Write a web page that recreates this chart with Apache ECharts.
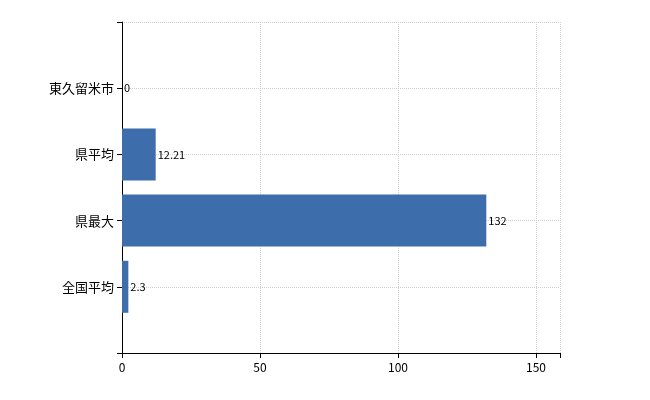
<!DOCTYPE html>
<html lang="ja">
<head>
    <meta charset="UTF-8">
    <title>chart</title>
    <script src="https://cdn.jsdelivr.net/npm/echarts@6/dist/echarts.min.js"></script>
    <style>
        html, body {margin: 0; padding: 0; background: #fff;}
        #main {width: 650px; height: 400px;}
    </style>
</head>
<body>
<div id="main"></div>
<script>
    // bottom to top; empty slots pad the ends
    let categories = ['', '全国平均', '県最大', '県平均', '東久留米市', ''];
    let values = [null, 2.3, 132, 12.21, 0, null];
    let xTicks = [0, 50, 100, 150];

    let myChart = echarts.init(document.getElementById('main'));
    let option = {
        animation: false,
        grid: {left: 122, right: 90, top: 22, bottom: 47},
        xAxis: {
            type: 'value',
            min: 0,
            max: 158.7,
            interval: 50,
            axisLine: {show: true, lineStyle: {color: '#000'}},
            axisTick: {show: true, lineStyle: {color: '#000'}},
            axisLabel: {
                color: '#000', fontSize: 12, fontFamily: 'Noto Sans CJK JP',
                formatter: v => xTicks.indexOf(v) >= 0 ? String(v) : ''
            },
            splitLine: {show: true, lineStyle: {color: '#d0d0d0', type: 'dotted'}}
        },
        yAxis: {
            type: 'category',
            data: categories,
            boundaryGap: false,
            axisLine: {show: true, lineStyle: {color: '#000'}},
            axisTick: {show: true, lineStyle: {color: '#000'}},
            axisLabel: {color: '#000', fontSize: 13, fontFamily: 'Noto Sans CJK JP'},
            splitLine: {show: true, lineStyle: {color: '#d0d0d0', type: 'dotted'}}
        },
        series: [{
            type: 'bar',
            data: values,
            barWidth: 52,
            itemStyle: {color: '#3d6eab'},
            label: {
                show: true,
                position: 'right',
                distance: 2,
                color: '#000',
                fontSize: 11,
                fontFamily: 'Noto Sans CJK JP'
            }
        }]
    };
    myChart.setOption(option);
</script>
</body>
</html>
